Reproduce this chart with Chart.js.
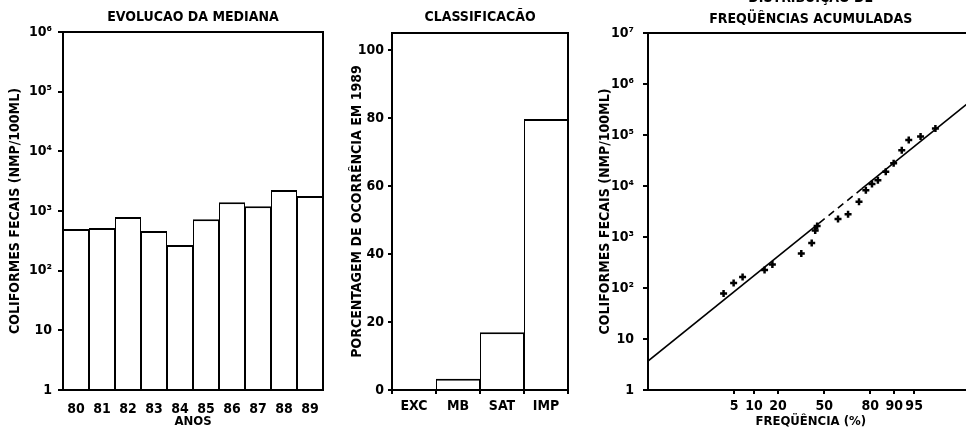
<html lang="pt">
  <head>
    <meta charset="UTF-8" />
    <script src="https://cdn.jsdelivr.net/npm/chart.js"></script>
    <title>Coliformes fecais</title>
    <style>
      body { margin: 0; width: 966px; height: 430px; overflow: hidden; background: #fff; position: relative; }
      canvas { position: absolute; }
    </style>
  </head>
  <body>
    <canvas id="medianaCanvas" width="330" height="430" style="left:0;top:0"></canvas>
    <canvas id="classeCanvas" width="270" height="430" style="left:330px;top:0"></canvas>
    <canvas id="freqCanvas" width="390" height="450" style="left:590px;top:-20px"></canvas>
    <script>
      // evolucao da mediana (NMP/100ML)
      const anos = ["80", "81", "82", "83", "84", "85", "86", "87", "88", "89"];
      const medianas = [500, 520, 790, 460, 270, 730, 1400, 1200, 2240, 1780];

      // classificacao 1989 (%)
      const classes = ["EXC", "MB", "SAT", "IMP"];
      const porcentagens = [0, 3.3, 17, 79.7];
      const pctTicks = [0, 20, 40, 60, 80, 100];

      // frequencias acumuladas (%) e coliformes
      const freqPontos = [3.3, 4.9, 6.8, 13.8, 17.2, 33.8, 41.0, 43.5, 44.9, 60.0, 66.9,
        73.8, 77.7, 80.9, 83.7, 87.0, 89.8, 92.2, 93.9, 96.1, 97.9];
      const coliPontos = [78, 126, 165, 225, 288, 475, 760, 1340, 1650, 2250, 2800,
        4900, 8300, 11000, 13000, 19000, 28000, 50000, 80000, 93000, 134000];
      const freqReta = [0.064, 46.4, 75.5, 99.68];
      const coliReta = [3.7, 1870, 8850, 510000];
      const freqTicks = [5, 10, 20, 50, 80, 90, 95];

      const logTicks1 = [1, 10, 100, 1000, 10000, 100000, 1000000];
      const logTicks3 = [1, 10, 100, 1000, 10000, 100000, 1000000, 10000000];
      const logLabels = ["1", "10", "10²", "10³", "10⁴", "10⁵", "10⁶", "10⁷"];

      Chart.defaults.font.family = "'DejaVu Sans Condensed', 'DejaVu Sans', sans-serif";
      Chart.defaults.font.weight = "bold";
      Chart.defaults.font.size = 14;
      Chart.defaults.color = "#000";

      // inverse of normal cdf (Acklam), for the probability axis
      function probit(pct) {
        const p = pct / 100;
        const a = [-39.6968302866538, 220.946098424521, -275.928510446969, 138.357751867269, -30.6647980661472, 2.50662827745924];
        const b = [-54.4760987982241, 161.585836858041, -155.698979859887, 66.8013118877197, -13.2806815528857];
        const c = [-0.00778489400243029, -0.322396458041136, -2.40075827716184, -2.54973253934373, 4.37466414146497, 2.93816398269878];
        const d = [0.00778469570904146, 0.32246712907004, 2.445134137143, 3.75440866190742];
        const tail = (q) => (((((c[0] * q + c[1]) * q + c[2]) * q + c[3]) * q + c[4]) * q + c[5]) /
          ((((d[0] * q + d[1]) * q + d[2]) * q + d[3]) * q + 1);
        if (p < 0.02425) return tail(Math.sqrt(-2 * Math.log(p)));
        if (p > 1 - 0.02425) return -tail(Math.sqrt(-2 * Math.log(1 - p)));
        const q = p - 0.5, r = q * q;
        return (((((a[0] * r + a[1]) * r + a[2]) * r + a[3]) * r + a[4]) * r + a[5]) * q /
          (((((b[0] * r + b[1]) * r + b[2]) * r + b[3]) * r + b[4]) * r + 1);
      }

      // box around the plot area
      const moldura = {
        id: "moldura",
        afterDraw(chart) {
          const { ctx, chartArea: a } = chart;
          ctx.save();
          ctx.strokeStyle = "#000";
          ctx.lineWidth = 2;
          ctx.strokeRect(a.left, a.top, a.right - a.left, a.bottom - a.top);
          ctx.restore();
        },
      };

      const yTitle = (text, top) => ({
        display: true, text: text, font: { size: 14 }, padding: { top: top, bottom: 0 },
      });

      // bars touching: half border on the sides so shared edges stay 2px
      const barStyle = {
        backgroundColor: "#fff",
        borderColor: "#000",
        borderWidth: { top: 2, left: 1, right: 1, bottom: 0 },
        borderSkipped: false,
        inflateAmount: 0,
        barPercentage: 1,
        categoryPercentage: 1,
      };

      new Chart(document.getElementById("medianaCanvas"), {
        type: "bar",
        data: {
          labels: anos,
          datasets: [{ data: medianas, ...barStyle }],
        },
        options: {
          responsive: false,
          animation: false,
          layout: { padding: { right: 7 } },
          plugins: {
            legend: { display: false },
            tooltip: { enabled: false },
            title: {
              display: true, fullSize: false, text: "EVOLUCAO DA MEDIANA",
              font: { size: 14, lineHeight: 1 }, padding: { top: 10, bottom: 8 },
            },
          },
          scales: {
            x: {
              grid: { display: false },
              border: { color: "#000", width: 2 },
              ticks: { padding: 3 },
              title: { display: true, text: "ANOS", font: { size: 13 }, padding: { top: 0, bottom: 1 } },
              afterFit: (s) => { s.height = 40; },
            },
            y: {
              type: "logarithmic",
              min: 1,
              max: 1000000,
              afterBuildTicks: (s) => { s.ticks = logTicks1.map((v) => ({ value: v })); },
              ticks: { padding: 6, callback: (v, i) => logLabels[i] },
              grid: { drawOnChartArea: false, tickLength: 5, color: "#000", lineWidth: 2 },
              border: { color: "#000", width: 2 },
              title: yTitle("COLIFORMES FECAIS (NMP/100ML)", 6.6),
              afterFit: (s) => { s.width = 63; },
            },
          },
        },
        plugins: [moldura],
      });

      new Chart(document.getElementById("classeCanvas"), {
        type: "bar",
        data: {
          labels: classes,
          datasets: [{ data: porcentagens, ...barStyle }],
        },
        options: {
          responsive: false,
          animation: false,
          layout: { padding: { right: 32 } },
          plugins: {
            legend: { display: false },
            tooltip: { enabled: false },
            title: {
              display: true, fullSize: false, text: "CLASSIFICACÃO",
              font: { size: 14, lineHeight: 1 }, padding: { top: 10, bottom: 9 },
            },
          },
          scales: {
            x: {
              grid: { drawOnChartArea: false, tickLength: 4, color: "#000", lineWidth: 2 },
              border: { color: "#000", width: 2 },
              ticks: { padding: 4 },
              afterFit: (s) => { s.height = 40; },
            },
            y: {
              min: 0,
              max: 105,
              afterBuildTicks: (s) => { s.ticks = pctTicks.map((v) => ({ value: v })); },
              ticks: { padding: 4 },
              grid: { drawOnChartArea: false, tickLength: 4, color: "#000", lineWidth: 2 },
              border: { color: "#000", width: 2 },
              title: yTitle("PORCENTAGEM DE OCORRÊNCIA EM 1989", 18.6),
              afterFit: (s) => { s.width = 62; },
            },
          },
        },
        plugins: [moldura],
      });

      new Chart(document.getElementById("freqCanvas"), {
        type: "scatter",
        data: {
          datasets: [
            {
              data: freqPontos.map((f, i) => ({ x: probit(f), y: coliPontos[i] })),
              pointStyle: "cross",
              pointRadius: 3.5,
              pointBorderWidth: 2.5,
              borderColor: "#000",
              backgroundColor: "#000",
            },
            {
              type: "line",
              data: freqReta.map((f, i) => ({ x: probit(f), y: coliReta[i] })),
              borderColor: "#000",
              borderWidth: 1.6,
              pointRadius: 0,
              segment: { borderDash: (ctx) => (ctx.p0DataIndex === 1 ? [7, 5] : undefined) },
            },
          ],
        },
        options: {
          responsive: false,
          animation: false,
          layout: { padding: { right: 5 } },
          plugins: {
            legend: { display: false },
            tooltip: { enabled: false },
            title: {
              display: true, fullSize: false,
              text: ["DISTRIBUIÇÃO DE", "FREQÜÊNCIAS ACUMULADAS"],
              font: { size: 14, lineHeight: 1.5 }, padding: { top: 8, bottom: 3 },
            },
          },
          scales: {
            x: {
              type: "linear",
              min: -3.22,
              max: 2.73,
              afterBuildTicks: (s) => { s.ticks = freqTicks.map((f) => ({ value: probit(f) })); },
              ticks: { padding: 4, callback: (v, i) => String(freqTicks[i]) },
              grid: { drawOnChartArea: false, tickLength: 4, color: "#000", lineWidth: 2 },
              border: { color: "#000", width: 2 },
              title: { display: true, text: "FREQÜÊNCIA (%)", font: { size: 13 }, padding: { top: 0, bottom: 1 } },
              afterFit: (s) => { s.height = 40; },
            },
            y: {
              type: "logarithmic",
              min: 1,
              max: 10000000,
              afterBuildTicks: (s) => { s.ticks = logTicks3.map((v) => ({ value: v })); },
              ticks: { padding: 9, callback: (v, i) => logLabels[i] },
              grid: { drawOnChartArea: false, tickLength: 5, color: "#000", lineWidth: 2 },
              border: { color: "#000", width: 2 },
              title: yTitle("COLIFORMES FECAIS (NMP/100ML)", 6.6),
              afterFit: (s) => { s.width = 58; },
            },
          },
        },
        plugins: [moldura],
      });
    </script>
  </body>
</html>
